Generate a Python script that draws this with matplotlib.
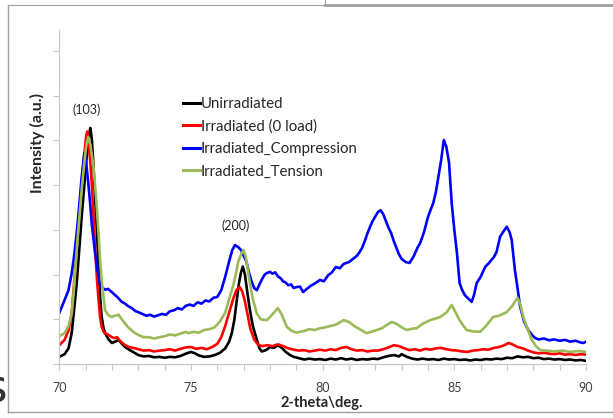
import matplotlib
matplotlib.use("Agg")
import matplotlib.pyplot as plt
from matplotlib.lines import Line2D
from matplotlib.ticker import MultipleLocator

plt.rcParams['font.family'] = ['Lato', 'DejaVu Sans']

# ---------------- data ----------------
unirr_x = [70.0, 70.2, 70.35, 70.47, 70.56, 70.66, 70.75, 70.85, 70.95, 71.04, 71.12, 71.18, 71.24, 71.3,
           71.36, 71.42, 71.49, 71.55, 71.61, 71.68, 71.74, 71.87, 72.0, 72.12, 72.25, 72.38, 72.5, 72.65,
           72.8, 73.0, 73.2, 73.4, 73.6, 73.8, 74.0, 74.2, 74.4, 74.6, 74.8, 75.0, 75.15, 75.3, 75.5, 75.7,
           75.9, 76.1, 76.3, 76.45, 76.55, 76.65, 76.74, 76.82, 76.9, 76.97, 77.05, 77.14, 77.24, 77.35,
           77.5, 77.6, 77.69, 77.8, 77.9, 78.0, 78.15, 78.3, 78.45, 78.6, 78.76, 78.9, 79.1, 79.3, 79.5,
           79.7, 79.9, 80.1, 80.3, 80.5, 80.7, 80.9, 81.1, 81.3, 81.5, 81.7, 81.9, 82.1, 82.3, 82.5, 82.7,
           82.9, 83.0, 83.2, 83.4, 83.6, 83.8, 84.0, 84.2, 84.4, 84.6, 84.8, 85.0, 85.2, 85.4, 85.6, 85.8,
           86.0, 86.2, 86.4, 86.6, 86.8, 87.0, 87.2, 87.4, 87.6, 87.8, 88.0, 88.2, 88.4, 88.6, 88.8, 89.0,
           89.2, 89.4, 89.6, 89.8, 90.0]
unirr_y = [0.16, 0.22, 0.35, 0.69, 1.2, 1.8, 2.5, 3.3, 4.0, 4.64, 5.1, 5.28, 5.0, 4.4,
           3.7, 3.07, 2.17, 1.5, 1.05, 0.8, 0.69, 0.55, 0.47, 0.5, 0.54, 0.45, 0.38, 0.32,
           0.27, 0.2, 0.17, 0.18, 0.15, 0.16, 0.14, 0.16, 0.15, 0.18, 0.23, 0.27, 0.24, 0.19, 0.16, 0.17,
           0.2, 0.25, 0.35, 0.5, 0.69, 1.0, 1.43, 1.8, 2.05, 2.18, 2.0, 1.6, 1.2, 0.85,
           0.54, 0.35, 0.28, 0.3, 0.33, 0.38, 0.36, 0.42, 0.36, 0.27, 0.2, 0.16, 0.13, 0.1, 0.12,
           0.1, 0.11, 0.09, 0.12, 0.1, 0.13, 0.1, 0.12, 0.09, 0.11, 0.1, 0.12, 0.11, 0.15, 0.18, 0.2,
           0.17, 0.22, 0.16, 0.12, 0.1, 0.12, 0.1, 0.11, 0.09, 0.12, 0.1, 0.11, 0.09, 0.1, 0.08, 0.1,
           0.09, 0.11, 0.1, 0.12, 0.11, 0.14, 0.13, 0.17, 0.15, 0.16, 0.13, 0.14, 0.11, 0.12, 0.1, 0.11,
           0.09, 0.1, 0.08, 0.09, 0.07]

irr0_x = [70.0, 70.2, 70.35, 70.47, 70.56, 70.66, 70.75, 70.85, 70.95, 71.02, 71.06, 71.12, 71.18, 71.23,
          71.3, 71.36, 71.43, 71.49, 71.55, 71.61, 71.7, 71.87, 72.0, 72.1, 72.2, 72.3, 72.4, 72.5, 72.65,
          72.8, 73.0, 73.2, 73.4, 73.6, 73.8, 74.0, 74.2, 74.4, 74.6, 74.8, 75.0, 75.2, 75.4, 75.6, 75.8,
          76.0, 76.15, 76.3, 76.45, 76.6, 76.72, 76.85, 76.95, 77.05, 77.15, 77.25, 77.4, 77.55, 77.7,
          77.9, 78.1, 78.3, 78.5, 78.7, 78.9, 79.1, 79.3, 79.5, 79.7, 79.9, 80.1, 80.3, 80.5, 80.7, 80.9,
          81.1, 81.3, 81.5, 81.7, 81.9, 82.1, 82.3, 82.5, 82.7, 82.9, 83.1, 83.3, 83.5, 83.7, 83.9, 84.1,
          84.3, 84.5, 84.7, 84.9, 85.1, 85.3, 85.5, 85.7, 85.9, 86.1, 86.3, 86.5, 86.7, 86.9, 87.05, 87.2,
          87.4, 87.6, 87.8, 88.0, 88.2, 88.4, 88.6, 88.8, 89.0, 89.2, 89.4, 89.6, 89.8, 90.0]
irr0_y = [0.42, 0.54, 0.75, 1.13, 1.8, 2.55, 3.3, 4.05, 4.7, 5.1, 5.2, 4.9, 4.5, 4.05,
          3.3, 2.55, 1.9, 1.43, 1.05, 0.83, 0.7, 0.65, 0.6, 0.58, 0.6, 0.52, 0.47, 0.42, 0.38,
          0.36, 0.33, 0.3, 0.31, 0.28, 0.3, 0.31, 0.33, 0.3, 0.34, 0.37, 0.38, 0.34, 0.36, 0.33, 0.38,
          0.45, 0.6, 0.85, 1.15, 1.45, 1.65, 1.72, 1.62, 1.4, 1.1, 0.8, 0.55, 0.43, 0.4,
          0.42, 0.4, 0.44, 0.4, 0.35, 0.32, 0.3, 0.31, 0.28, 0.3, 0.32, 0.3, 0.33, 0.31, 0.36, 0.38,
          0.33, 0.3, 0.31, 0.28, 0.3, 0.3, 0.33, 0.37, 0.42, 0.4, 0.35, 0.31, 0.33, 0.3, 0.34, 0.32,
          0.35, 0.36, 0.33, 0.31, 0.3, 0.28, 0.27, 0.3, 0.31, 0.33, 0.32, 0.36, 0.38, 0.42, 0.47, 0.44,
          0.38, 0.35, 0.3, 0.26, 0.24, 0.25, 0.23, 0.22, 0.24, 0.21, 0.22, 0.2, 0.22, 0.21]

comp_x = [70.0, 70.2, 70.35, 70.47, 70.56, 70.66, 70.75, 70.85, 70.95, 71.02, 71.1, 71.17, 71.23, 71.3,
          71.36, 71.45, 71.55, 71.65, 71.74, 71.85, 71.99, 72.1, 72.2, 72.37, 72.5, 72.6, 72.75, 72.9,
          73.0, 73.15, 73.3, 73.45, 73.6, 73.75, 73.9, 74.05, 74.2, 74.35, 74.5, 74.65, 74.8, 74.95,
          75.1, 75.25, 75.4, 75.55, 75.7, 75.85, 76.0, 76.15, 76.3, 76.45, 76.57, 76.67, 76.78, 76.9,
          77.0, 77.1, 77.2, 77.3, 77.4, 77.5, 77.6, 77.7, 77.8, 77.9, 78.0, 78.1, 78.2, 78.3, 78.4,
          78.5, 78.6, 78.7, 78.8, 78.9, 79.0, 79.14, 79.26, 79.4, 79.55, 79.7, 79.9, 80.05, 80.2,
          80.35, 80.5, 80.65, 80.8, 81.0, 81.15, 81.3, 81.4, 81.5, 81.6, 81.7, 81.8, 81.9, 82.0,
          82.1, 82.2, 82.3, 82.4, 82.5, 82.6, 82.7, 82.8, 82.9, 83.0, 83.15, 83.3, 83.45, 83.6,
          83.7, 83.85, 84.0, 84.1, 84.2, 84.3, 84.4, 84.5, 84.6, 84.7, 84.8, 84.9, 85.0, 85.1,
          85.2, 85.3, 85.4, 85.55, 85.66, 85.75, 85.85, 86.0, 86.17, 86.3, 86.5, 86.6, 86.74,
          86.85, 86.99, 87.1, 87.18, 87.3, 87.4, 87.5, 87.65, 87.8, 87.95, 88.07, 88.2, 88.4,
          88.6, 88.8, 89.0, 89.2, 89.4, 89.6, 89.8, 89.9, 90.0]
comp_y = [1.14, 1.43, 1.65, 2.03, 2.4, 2.93, 3.5, 4.18, 4.72, 4.5, 4.05, 3.6, 3.15, 2.8,
          2.48, 2.1, 1.77, 1.7, 1.66, 1.68, 1.61, 1.55, 1.5, 1.39, 1.35, 1.3, 1.25, 1.18,
          1.16, 1.12, 1.08, 1.1, 1.06, 1.09, 1.12, 1.1, 1.18, 1.2, 1.25, 1.22, 1.3, 1.33,
          1.3, 1.38, 1.35, 1.42, 1.4, 1.48, 1.5, 1.65, 1.95, 2.3, 2.55, 2.66, 2.62, 2.55,
          2.42, 2.3, 2.05, 1.85, 1.7, 1.65, 1.78, 1.9, 2.0, 2.04, 2.06, 2.02, 2.05, 1.96, 1.92,
          1.85, 1.82, 1.76, 1.78, 1.7, 1.72, 1.73, 1.61, 1.68, 1.75, 1.8, 1.88, 1.85, 1.98,
          2.05, 2.17, 2.14, 2.24, 2.28, 2.35, 2.42, 2.5, 2.6, 2.75, 2.92, 3.07, 3.2, 3.3,
          3.4, 3.44, 3.35, 3.2, 3.05, 2.93, 2.75, 2.6, 2.45, 2.35, 2.28, 2.26, 2.4, 2.6,
          2.7, 2.95, 3.29, 3.45, 3.6, 3.85, 4.2, 4.56, 5.01, 4.85, 4.5, 3.6, 3.0, 2.48,
          1.81, 1.65, 1.54, 1.45, 1.39, 1.55, 1.81, 1.95, 2.17, 2.25, 2.39, 2.5, 2.85,
          2.95, 3.07, 2.95, 2.77, 2.1, 1.7, 1.28, 0.95, 0.76, 0.65, 0.58, 0.55, 0.57,
          0.53, 0.55, 0.52, 0.54, 0.5, 0.52, 0.48, 0.47, 0.5]

tens_x = [70.0, 70.2, 70.35, 70.47, 70.56, 70.66, 70.75, 70.85, 70.95, 71.03, 71.1, 71.18, 71.24, 71.3,
          71.4, 71.49, 71.55, 71.61, 71.68, 71.74, 71.85, 71.99, 72.1, 72.25, 72.4, 72.6, 72.75, 72.88,
          73.0, 73.2, 73.4, 73.6, 73.8, 74.0, 74.2, 74.4, 74.6, 74.8, 74.9, 75.1, 75.3, 75.5, 75.7,
          75.9, 76.1, 76.3, 76.45, 76.6, 76.7, 76.8, 76.9, 76.99, 77.08, 77.16, 77.24, 77.35, 77.5,
          77.65, 77.88, 78.0, 78.15, 78.3, 78.45, 78.64, 78.8, 79.0, 79.14, 79.3, 79.5, 79.7, 79.9,
          80.1, 80.3, 80.5, 80.65, 80.8, 81.0, 81.2, 81.4, 81.67, 81.85, 82.05, 82.25, 82.45, 82.62,
          82.8, 83.0, 83.19, 83.4, 83.57, 83.8, 84.08, 84.3, 84.46, 84.7, 84.9, 85.05, 85.2, 85.35,
          85.47, 85.7, 85.98, 86.2, 86.47, 86.7, 86.99, 87.2, 87.4, 87.5, 87.62, 87.8, 87.94, 88.1,
          88.26, 88.5, 88.8, 89.1, 89.4, 89.7, 90.0]
tens_y = [0.62, 0.69, 0.85, 1.13, 1.7, 2.55, 3.2, 3.9, 4.5, 4.9, 5.08, 4.9, 4.65, 4.4,
          3.7, 2.93, 2.3, 1.88, 1.5, 1.2, 1.1, 1.05, 1.08, 1.1, 0.98, 0.83, 0.75, 0.69,
          0.65, 0.6, 0.6, 0.57, 0.6, 0.62, 0.66, 0.64, 0.68, 0.72, 0.69, 0.72, 0.7, 0.76, 0.78,
          0.82, 0.95, 1.15, 1.45, 1.75, 2.0, 2.3, 2.45, 2.55, 2.4, 2.1, 1.8, 1.45, 1.13,
          1.0, 0.98, 1.05, 1.15, 1.25, 1.1, 0.83, 0.75, 0.7, 0.72, 0.74, 0.78, 0.76, 0.8,
          0.82, 0.85, 0.88, 0.93, 0.98, 0.94, 0.85, 0.78, 0.69, 0.72, 0.76, 0.8, 0.88, 0.94,
          0.9, 0.82, 0.76, 0.79, 0.8, 0.9, 0.98, 1.02, 1.05, 1.15, 1.32, 1.15, 0.98, 0.85,
          0.76, 0.73, 0.72, 0.85, 1.05, 1.08, 1.16, 1.3, 1.48, 1.35, 1.05, 0.75, 0.54, 0.4,
          0.31, 0.3, 0.28, 0.3, 0.27, 0.29, 0.27]

series_names = ["Unirradiated", "Irradiated (0 load)", "Irradiated_Compression", "Irradiated_Tension"]
series_colors = ["#000000", "#FF0000", "#0000FF", "#9BBB59"]
x_ticks = [70, 75, 80, 85, 90]
peak_labels = ["(103)", "(200)"]
x_label = "2-theta\\deg."
y_label = "Intensity (a.u.)"

# ---------------- figure ----------------
W, H = 613, 418
fig = plt.figure(figsize=(W / 100, H / 100), dpi=100)
fig.patch.set_facecolor("white")

ax_l, ax_r, ax_b, ax_t = 59.3, 586, 364, 30
ax = fig.add_axes([ax_l / W, (H - ax_b) / H, (ax_r - ax_l) / W, (ax_b - ax_t) / H])

xs = [unirr_x, irr0_x, comp_x, tens_x]
ys = [unirr_y, irr0_y, comp_y, tens_y]
for x, y, c, n in zip(xs, ys, series_colors, series_names):
    ax.plot(x, y, color=c, lw=1.9, label=n, solid_joinstyle="round")

ax.set_xticks(x_ticks)
ax.set_xticklabels([str(v) for v in x_ticks])
ax.xaxis.set_minor_locator(MultipleLocator(1))
ax.yaxis.set_major_locator(MultipleLocator(1))
ax.set_xlim(70, 90)
ax.set_ylim(0, 7.47)
ax.tick_params(axis="y", labelleft=False)
for s in ["top", "right"]:
    ax.spines[s].set_visible(False)
for s in ["left", "bottom"]:
    ax.spines[s].set_color("#C8C8C8")
    ax.spines[s].set_linewidth(0.9)
ax.tick_params(axis="both", which="both", direction="out", length=4, width=0.8, color="#C8C8C8")
ax.tick_params(axis="x", labelsize=9, labelcolor="#404040", pad=9)

ax.text(71.05, 5.68, peak_labels[0], fontsize=9, color="#262626", ha="center", va="center")
ax.text(76.7, 3.09, peak_labels[1], fontsize=9, color="#262626", ha="center", va="center")

fig.text(322 / W, 1 - 403 / H, x_label, fontsize=10.5, fontweight="bold", ha="center", va="center",
         color="#262626")
fig.text(37 / W, 1 - 143 / H, y_label, fontsize=11.5, fontweight="bold", ha="center", va="center",
         rotation=90, color="#262626")

handles = [Line2D([], [], color=c, lw=2.2) for c in series_colors]
leg = fig.legend(handles, series_names, loc="upper left", bbox_to_anchor=(183 / W, 1 - 97 / H),
                 frameon=False, fontsize=10.8, handlelength=1.1, handletextpad=0.1,
                 labelspacing=0.56, borderpad=0, borderaxespad=0)
for t in leg.get_texts():
    t.set_color("#262626")

# screenshot frame
frame_col = "#A0A0A0"
fig.add_artist(Line2D([8 / W, 8 / W], [1 - 4.5 / H, 1 - 412 / H], color=frame_col, lw=1.0,
                      transform=fig.transFigure))
fig.add_artist(Line2D([8 / W, 1.0], [1 - 412 / H, 1 - 412 / H], color=frame_col, lw=1.0,
                      transform=fig.transFigure))
fig.add_artist(Line2D([8 / W, 325 / W], [1 - 4.5 / H, 1 - 4.5 / H], color=frame_col, lw=0.8,
                      transform=fig.transFigure))
fig.add_artist(Line2D([325 / W, 325 / W], [1.0, 1 - 5 / H], color=frame_col, lw=0.8,
                      transform=fig.transFigure))
fig.add_artist(Line2D([325 / W, 1.0], [1 - 5 / H, 1 - 5 / H], color=frame_col, lw=2.0,
                      transform=fig.transFigure))
fig.text(7 / W, 1 - 390 / H, "s", fontsize=34, color="#333333", ha="right", va="center",
         family="DejaVu Sans")

fig.savefig("out.png", dpi=100)
